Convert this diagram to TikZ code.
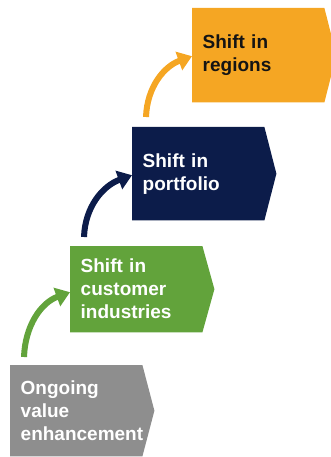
\documentclass[tikz,border=0pt]{standalone}
\usepackage{fontspec}
\setmainfont{Liberation Sans}
\usetikzlibrary{arrows.meta,backgrounds}

\definecolor{stepgray}{HTML}{8E8E8E}
\definecolor{stepgreen}{HTML}{62A33B}
\definecolor{stepnavy}{HTML}{0C1C4A}
\definecolor{steporange}{HTML}{F5A623}
\definecolor{darktext}{HTML}{141414}

\tikzset{
  stage/.style={rectangle, anchor=north west, inner xsep=10.5pt, inner ysep=0pt,
    text width=111pt, minimum height=#1, align=left,
    font=\fontsize{19}{23}\selectfont\bfseries},
  climb/.style={line width=6pt, -{Triangle[length=14pt,width=19pt]}},
}

\begin{document}
\begin{tikzpicture}[x=1pt,y=1pt]
  \useasboundingbox (0,0) rectangle (331,-457);

  % the four stages; their pointed outlines are filled underneath the text
  \node[stage=91pt, text=white] (ongoing) at (10,-365)
    {Ongoing\\value\\enhancement};
  \node[stage=86pt, text=white] (customers) at (70,-246)
    {Shift in\\customer\\industries};
  \node[stage=93pt, text=white] (portfolio) at (132,-127)
    {Shift in\\portfolio};
  \node[stage=94pt, text=darktext] (regions) at (192,-8)
    {Shift in\\regions};

  \begin{pgfonlayer}{background}
    \foreach \n/\c in {ongoing/stepgray, customers/stepgreen,
                       portfolio/stepnavy, regions/steporange}
      \fill[\c] (\n.north west) -- (\n.north east) -- ([xshift=12pt]\n.east)
        -- (\n.south east) -- (\n.south west) -- cycle;
  \end{pgfonlayer}

  % curved arrows climbing from one stage to the next
  \coordinate (g0) at (24,-357);
  \coordinate (n0) at (84,-237);
  \coordinate (o0) at (146,-117);
  \draw[climb, stepgreen] (g0) to[out=88, in=200] ([yshift=-3pt]customers.west);
  \draw[climb, stepnavy] (n0) to[out=88, in=200] ([yshift=-1.5pt]portfolio.west);
  \draw[climb, steporange] (o0) to[out=88, in=200] ([yshift=-1pt]regions.west);
\end{tikzpicture}
\end{document}
